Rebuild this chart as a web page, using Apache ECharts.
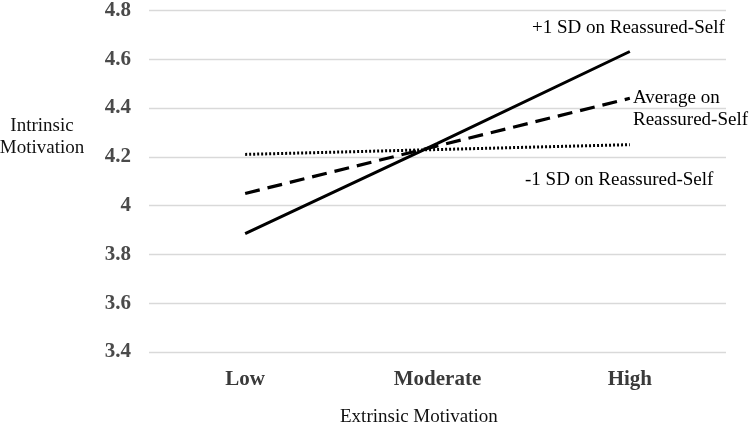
<!DOCTYPE html>
<html>
<head>
<meta charset="utf-8">
<script src="https://cdn.jsdelivr.net/npm/echarts@6/dist/echarts.min.js"></script>
<style>
html,body{margin:0;padding:0;background:#fff;}
#c{width:749px;height:428px;}
</style>
</head>
<body>
<div id="c"></div>
<script>
const categories = ['Low', 'Moderate', 'High'];
const yTicks = [3.4, 3.6, 3.8, 4.0, 4.2, 4.4, 4.6, 4.8];
const seriesNames = ['+1 SD on Reassured-Self', 'Average on\nReassured-Self', '-1 SD on Reassured-Self'];
const plusOneSD = [3.885, 4.255, 4.632];
const averageSD = [4.05, 4.245, 4.44];
const minusOneSD = [4.21, 4.23, 4.25];
const xTitle = 'Extrinsic Motivation';
const yTitle = 'Intrinsic\nMotivation';

const serif = '"Liberation Serif", "DejaVu Serif", serif';
const chart = echarts.init(document.getElementById('c'));
const lineBase = {type: 'line', symbol: 'none', silent: true, animation: false};
chart.setOption({
  animation: false,
  grid: {left: 149, right: 23, top: 10.5, bottom: 76},
  xAxis: {
    type: 'category', data: categories, boundaryGap: true,
    axisLine: {show: false}, axisTick: {show: false},
    axisLabel: {fontFamily: serif, fontWeight: 'bold', fontSize: 21, color: '#3a3a3a', margin: 17}
  },
  yAxis: {
    type: 'value', min: yTicks[0], max: yTicks[yTicks.length - 1], interval: 0.2,
    axisLine: {show: false}, axisTick: {show: false},
    splitLine: {lineStyle: {color: '#d9d9d9', width: 1.3}},
    axisLabel: {fontFamily: serif, fontWeight: 'bold', fontSize: 21, color: '#4a4a4a', margin: 18,
      formatter: v => String(Math.round(v * 10) / 10)}
  },
  series: [
    Object.assign({}, lineBase, {name: seriesNames[0], data: plusOneSD, lineStyle: {color: '#000', width: 3, type: 'solid'}}),
    Object.assign({}, lineBase, {name: seriesNames[1], data: averageSD, lineStyle: {color: '#000', width: 3.2, type: [15, 8]}}),
    Object.assign({}, lineBase, {name: seriesNames[2], data: minusOneSD, lineStyle: {color: '#000', width: 3, type: [2, 2]}})
  ],
  graphic: [
    {type: 'text', left: 532, top: 19, style: {text: seriesNames[0], font: '19px ' + serif, fill: '#000'}},
    {type: 'text', left: 633, top: 87, style: {text: seriesNames[1], font: '19px ' + serif, fill: '#000', lineHeight: 22}},
    {type: 'text', left: 525, top: 171, style: {text: seriesNames[2], font: '19px ' + serif, fill: '#000'}},
    {type: 'text', x: 42, y: 115, style: {text: yTitle, font: '19px ' + serif, fill: '#111', align: 'center', verticalAlign: 'top', lineHeight: 22}},
    {type: 'text', left: 340, top: 408, style: {text: xTitle, font: '19px ' + serif, fill: '#111'}}
  ]
});
</script>
</body>
</html>
